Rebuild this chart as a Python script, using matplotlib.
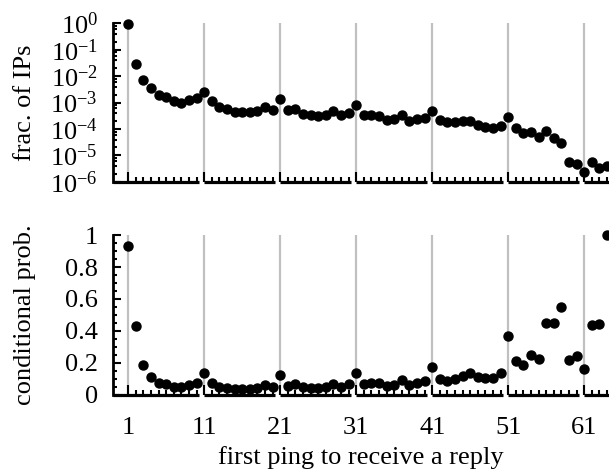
import matplotlib
matplotlib.use('Agg')
import matplotlib.pyplot as plt
from matplotlib.ticker import FixedLocator, LogLocator, MultipleLocator, NullFormatter, LogFormatterMathtext

plt.rcParams['font.family'] = 'Liberation Serif'
plt.rcParams['mathtext.fontset'] = 'custom'
plt.rcParams['mathtext.rm'] = 'Liberation Serif'
plt.rcParams['mathtext.it'] = 'Liberation Serif:italic'

# first ping index 1..64
pings = list(range(1, 65))

frac_ips = [0.93, 0.030, 0.0071, 0.0035, 0.0019, 0.0016, 0.00114, 0.00098, 0.00124, 0.00148,
            0.0025, 0.00117, 0.00066, 0.00056, 0.00045, 0.00043, 0.00043, 0.00048, 0.00068, 0.00052,
            0.00135, 0.00052, 0.00056, 0.00037, 0.00034, 0.00031, 0.00033, 0.00047, 0.00033, 0.00040,
            0.00081, 0.00034, 0.00035, 0.00032, 0.00022, 0.00023, 0.00034, 0.00020, 0.00024, 0.00026,
            0.00048, 0.00022, 0.00018, 0.00018, 0.00020, 0.00020, 0.00014, 0.000115, 0.000108, 0.000129,
            0.00029, 0.000105, 0.000068, 0.000078, 0.0000505, 0.000083, 0.0000465, 0.000030, 0.0000054, 0.0000047,
            0.0000023, 0.0000054, 0.0000032, 0.0000041]

cond_prob = [0.933, 0.43, 0.183, 0.112, 0.074, 0.066, 0.049, 0.045, 0.058, 0.070,
             0.133, 0.074, 0.045, 0.039, 0.034, 0.033, 0.033, 0.039, 0.060, 0.049,
             0.122, 0.055, 0.064, 0.049, 0.043, 0.043, 0.045, 0.064, 0.049, 0.064,
             0.133, 0.064, 0.074, 0.070, 0.055, 0.062, 0.091, 0.062, 0.074, 0.085,
             0.174, 0.095, 0.085, 0.095, 0.118, 0.133, 0.112, 0.101, 0.104, 0.133,
             0.369, 0.210, 0.183, 0.248, 0.221, 0.446, 0.446, 0.547, 0.216, 0.241,
             0.158, 0.436, 0.442, 1.0]

major_x = [1, 11, 21, 31, 41, 51, 61]
xmin, xmax = -1, 64.25
fs = 19

fig = plt.figure(figsize=(6.09, 4.76), dpi=100)
ax1 = fig.add_axes([0.1856, 0.618, 1 - 0.1856, 0.951 - 0.618])
ax2 = fig.add_axes([0.1856, 0.171, 1 - 0.1856, 0.506 - 0.171])

lw = 2.0


def style_axis(ax):
    ax.set_xlim(xmin, xmax)
    for s in ['top', 'right', 'bottom']:
        ax.spines[s].set_visible(False)
    ax.spines['left'].set_linewidth(lw)
    ax.xaxis.set_major_locator(FixedLocator(major_x))
    ax.xaxis.set_minor_locator(FixedLocator([p for p in pings if p not in major_x]))
    ax.tick_params(axis='both', which='both', direction='in', width=1.5, labelsize=fs)
    ax.tick_params(axis='x', which='major', length=7, pad=16)
    ax.tick_params(axis='x', which='minor', length=3.5)
    ax.tick_params(axis='y', which='major', length=5.5, pad=11)
    ax.tick_params(axis='y', which='minor', length=3)
    ax.grid(axis='x', which='major', color='#c0c0c0', linewidth=1.6)
    ax.set_axisbelow(True)
    # broken bottom axis: one piece per group of ten pings
    starts = [xmin] + major_x[1:]
    ends = [m + 9.25 for m in major_x[:-1]] + [xmax]
    for a, b in zip(starts, ends):
        ax.plot([a, b], [0, 0], color='black', linewidth=lw + 0.3,
                transform=ax.get_xaxis_transform(), clip_on=False, solid_capstyle='butt')


style_axis(ax1)
ax1.plot(pings, frac_ips, 'o', color='black', markersize=6.5, clip_on=False, zorder=3)
ax1.set_yscale('log')
ax1.set_ylim(1e-6, 1)
ax1.yaxis.set_major_locator(LogLocator(base=10, numticks=10))
ax1.yaxis.set_minor_locator(LogLocator(base=10, subs=(2, 4, 6, 8), numticks=10))
ax1.yaxis.set_major_formatter(LogFormatterMathtext())
ax1.yaxis.set_minor_formatter(NullFormatter())
ax1.set_xticklabels([])
ax1.set_ylabel('frac. of IPs', fontsize=fs, va='center')
ax1.yaxis.set_label_coords(-0.177, 0.5)

style_axis(ax2)
ax2.plot(pings, cond_prob, 'o', color='black', markersize=6.5, clip_on=False, zorder=3)
ax2.set_ylim(0, 1)
ax2.yaxis.set_major_locator(MultipleLocator(0.2))
ax2.yaxis.set_minor_locator(MultipleLocator(0.05))
ax2.set_yticks([0, 0.2, 0.4, 0.6, 0.8, 1])
ax2.set_yticklabels(['0', '0.2', '0.4', '0.6', '0.8', '1'])
ax2.set_ylabel('conditional prob.', fontsize=fs, va='center')
ax2.yaxis.set_label_coords(-0.177, 0.5)
ax2.set_xlabel('first ping to receive a reply', fontsize=fs, labelpad=5)

fig.savefig('out.png', dpi=100)
